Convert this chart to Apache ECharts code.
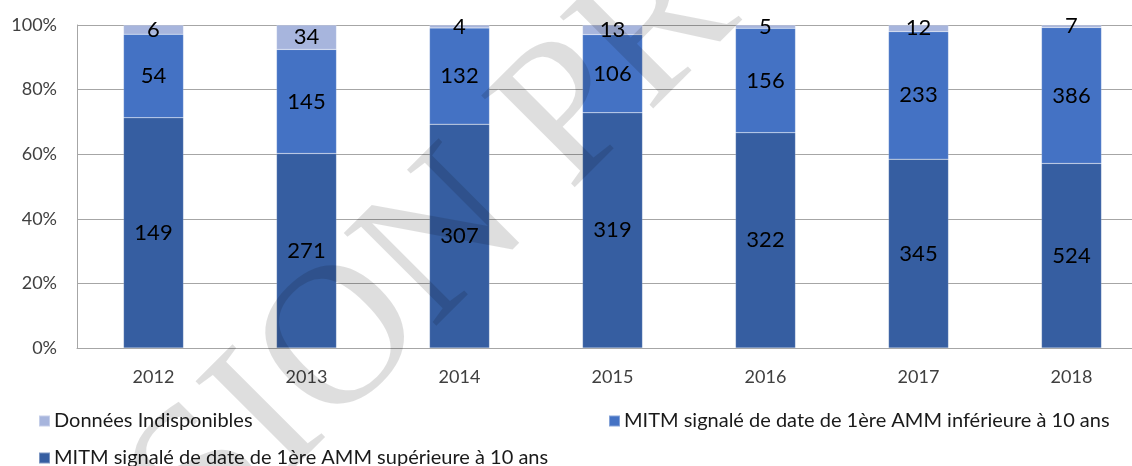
<!DOCTYPE html>
<html>
<head>
<meta charset="utf-8">
<script src="https://cdn.jsdelivr.net/npm/echarts@6/dist/echarts.min.js"></script>
<style>
  html, body { margin: 0; padding: 0; background: #fff; }
  #main { width: 1132px; height: 466px; }
</style>
</head>
<body>
<div id="main"></div>
<script>
const years = ['2012', '2013', '2014', '2015', '2016', '2017', '2018']
const superieure = [149, 271, 307, 319, 322, 345, 524]
const inferieure = [54, 145, 132, 106, 156, 233, 386]
const indisponibles = [6, 34, 4, 13, 5, 12, 7]
const yTicks = [0, 20, 40, 60, 80, 100]

const nameSup = 'MITM signalé de date de 1ère AMM supérieure à 10 ans'
const nameInf = 'MITM signalé de date de 1ère AMM inférieure à 10 ans'
const nameInd = 'Données Indisponibles'

const totals = years.map((_, i) => superieure[i] + inferieure[i] + indisponibles[i])
const pct = arr => arr.map((v, i) => v / totals[i] * 100)

const font = 'Lato'

const barSeries = (name, raw, color) => ({
  name,
  type: 'bar',
  stack: 'total',
  barWidth: 60,
  data: pct(raw),
  itemStyle: { color, borderColor: 'rgba(255,255,255,0.35)', borderWidth: 0.5 },
  label: {
    show: true,
    position: 'inside',
    color: '#000',
    fontFamily: font,
    fontSize: 22,
    formatter: p => raw[p.dataIndex]
  },
  emphasis: { disabled: true }
})

const legendBase = {
  orient: 'horizontal',
  itemWidth: 11,
  itemHeight: 11,
  itemGap: 6,
  icon: 'rect',
  textStyle: { fontFamily: font, fontSize: 20, color: '#1a1a1a', padding: [0, 0, 0, -1] },
  selectedMode: false
}

const chart = echarts.init(document.getElementById('main'))

chart.setOption({
  animation: false,
  // plot area runs past the right edge of the picture (cropped like the source)
  grid: { left: 77, width: 1071, top: 25, bottom: 118, outerBoundsMode: 'none' },
  legend: [
    Object.assign({}, legendBase, { data: [nameInd], left: 33, top: 406 }),
    Object.assign({}, legendBase, { data: [nameInf], left: 603, top: 406 }),
    Object.assign({}, legendBase, { data: [nameSup], left: 33, top: 443 })
  ],
  xAxis: {
    type: 'category',
    data: years,
    axisLine: { show: true, lineStyle: { color: '#a6a6a6', width: 1 } },
    axisTick: { show: false },
    axisLabel: { color: '#404040', fontFamily: font, fontSize: 18, margin: 20 }
  },
  yAxis: {
    type: 'value',
    min: yTicks[0],
    max: yTicks[yTicks.length - 1],
    interval: yTicks[1] - yTicks[0],
    axisLine: { show: true, lineStyle: { color: '#a6a6a6', width: 1 } },
    axisTick: { show: false },
    splitLine: { lineStyle: { color: '#a6a6a6', width: 1 } },
    axisLabel: { color: '#404040', fontFamily: font, fontSize: 18, margin: 20, formatter: '{value}%' }
  },
  series: [
    barSeries(nameSup, superieure, '#365ea1'),
    barSeries(nameInf, inferieure, '#4472c4'),
    barSeries(nameInd, indisponibles, '#a7b5dd')
  ],
  graphic: [
    {
      type: 'text',
      silent: true,
      z: 100,
      x: -45,
      y: 874,
      rotation: Math.PI / 4,
      style: {
        text: 'VERSION PROVISOIRE',
        font: '200px "Liberation Serif"',
        fill: 'rgba(0,0,0,0.13)',
        textAlign: 'left',
        textVerticalAlign: 'bottom'
      }
    }
  ]
})
</script>
</body>
</html>
